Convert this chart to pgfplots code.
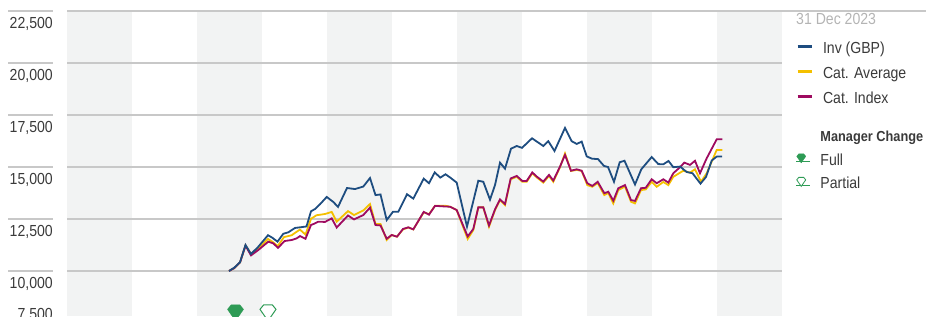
\documentclass[border=0pt]{standalone}
\usepackage{fontspec}
\setmainfont{Liberation Sans}[FakeStretch=0.88]
\usepackage{pgfplots}
\pgfplotsset{compat=1.18}
\definecolor{invblue}{HTML}{1E4D80}
\definecolor{catgold}{HTML}{F4C000}
\definecolor{catmag}{HTML}{9E0B60}
\definecolor{mgreen}{HTML}{2E9B55}
\definecolor{band}{HTML}{F2F3F3}
\definecolor{gridc}{HTML}{C8C8C8}
\definecolor{tickc}{HTML}{3A3A3A}
\definecolor{datec}{HTML}{B4B4B4}

\pgfdeclareplotmark{gem}{%
 \pgfpathmoveto{\pgfqpoint{-0.55\pgfplotmarksize}{0.75\pgfplotmarksize}}%
 \pgfpathlineto{\pgfqpoint{0.55\pgfplotmarksize}{0.75\pgfplotmarksize}}%
 \pgfpathlineto{\pgfqpoint{\pgfplotmarksize}{0.2\pgfplotmarksize}}%
 \pgfpathlineto{\pgfqpoint{0pt}{-1.25\pgfplotmarksize}}%
 \pgfpathlineto{\pgfqpoint{-\pgfplotmarksize}{0.2\pgfplotmarksize}}%
 \pgfpathclose
 \pgfusepathqfillstroke}

\newcommand{\sz}{\fontsize{16}{19}\selectfont}

\begin{document}
\begin{tikzpicture}
\useasboundingbox (0,0) rectangle (926pt,316pt);
\clip (0,0) rectangle (926pt,316pt);
% alternating year bands
\foreach \a/\b in {67/132,197/262,327/392,457/522,587/652,717/782}
  \fill[band] (\a pt,0pt) rectangle (\b pt,305pt);
% short rules above the tick labels
\foreach \y in {305,253,201,149,97,45}
  \draw[gridc, line width=1.5pt] (8pt,\y pt) -- (53pt,\y pt);
\draw[gridc, line width=1.5pt] (782pt,305pt) -- (926pt,305pt);
\node[anchor=north east, inner sep=0pt, text=tickc, font=\sz] at (53pt,8pt) {7,500};
\node[anchor=north west, inner sep=0pt, text=datec, font=\sz] at (796pt,303pt) {31 Dec 2023};

\begin{axis}[
  at={(67pt,-7pt)}, anchor=south west,
  scale only axis, width=715pt, height=312pt,
  xmin=67, xmax=782, ymin=7500, ymax=22500,
  axis line style={draw=none},
  xtick=\empty,
  ytick={10000,12500,15000,17500,20000,22500},
  scaled y ticks=false,
  ymajorgrids,
  major grid style={gridc, line width=1.5pt},
  major tick length=0pt,
  /pgf/number format/1000 sep={,},
  /pgf/number format/assume math mode=true,
  yticklabel style={font=\sz, text=tickc, anchor=north east, inner sep=0pt, xshift=-14pt, yshift=-6pt},
  legend style={at={(1.0196,0.9014)}, anchor=north west, draw=none, fill=none,
    inner sep=0pt, outer sep=0pt, row sep=9pt, font=\sz, text=tickc,
    nodes={inner sep=0pt, text height=12pt, text depth=4pt},
    /tikz/every odd column/.append style={column sep=10pt}},
  legend cell align=left,
  legend image code/.code={\draw[line width=3pt,#1] (0pt,3pt) -- (14pt,3pt);},
]
\addlegendimage{invblue}\addlegendentry{Inv (GBP)}
\addlegendimage{catgold}\addlegendentry{Cat. Average}
\addlegendimage{catmag}\addlegendentry{Cat. Index}

\addplot[catgold, line width=1.8pt, forget plot] coordinates {
(229,10000)(234.3,10140)(240,10410)(245.5,11230)(251,10820)(258.3,11080)(268,11540)(272.3,11410)(277.7,11200)(284,11630)(291.7,11720)(296.7,11890)(300,11990)(305.5,11750)(311,12510)(316.5,12680)(325,12740)(331.7,12840)(336.7,12370)(348,12880)(354,12690)(363.3,12910)(370,13220)(375.5,12260)(380.5,12260)(386.7,11490)(391.7,11730)(397,11650)(403,12000)(408.3,12090)(413.3,12000)(423.7,12820)(429,12730)(435,13130)(446,13130)(450,13090)(456.7,12930)(467.7,11540)(473.3,11970)(478.3,13060)(483.3,13060)(489,12130)(495,12930)(500,13410)(505,13170)(510.7,14410)(516.7,14530)(522.3,14290)(526.7,14290)(532.3,14700)(536.7,14500)(543.3,14250)(549,14570)(553.3,14290)(560,14990)(565,15650)(571,14810)(576.7,14860)(581.7,14810)(587.3,14130)(592.3,14050)(597.7,14230)(604.3,13650)(608.3,13750)(613.3,13250)(618.3,13890)(625,14060)(631,13330)(635,13250)(641,13890)(645.7,13920)(651.7,14290)(656.7,14050)(663.3,14280)(668.3,14130)(673.3,14530)(683.3,14820)(690,14730)(695,14890)(701,14290)(706.7,14700)(716.7,15820)(722.3,15820)
};
\addplot[catmag, line width=1.8pt, forget plot] coordinates {
(229,10000)(234.3,10140)(240,10410)(245.5,11220)(251,10750)(258.3,11010)(268.3,11410)(273.3,11330)(278,11110)(284.5,11440)(291.7,11490)(296.7,11570)(300,11680)(305.5,11550)(311,12210)(315,12290)(318.3,12370)(325,12360)(331.7,12530)(336.7,12090)(348,12670)(354,12480)(363.3,12690)(370,13050)(375.5,12210)(380.5,12190)(386.7,11550)(391.7,11730)(397,11650)(403,12020)(408.3,12100)(413.3,12000)(423.7,12840)(429,12710)(435,13130)(446,13100)(450,13090)(456.7,12930)(467.7,11660)(473.3,12020)(478.3,13060)(483.3,13060)(489,12190)(495,12960)(500,13440)(505,13220)(510.7,14450)(516.7,14570)(522.3,14330)(526.7,14330)(532.3,14740)(536.7,14540)(543.3,14300)(549,14620)(553.3,14350)(560,15020)(565,15580)(571,14820)(576.7,14890)(581.7,14820)(587.3,14220)(592.3,14090)(597.7,14290)(604.3,13740)(608.3,13810)(613.3,13380)(618.3,13980)(625,14130)(631,13410)(635,13370)(641,13980)(645.7,14000)(651.7,14410)(656.7,14220)(663.3,14410)(668.3,14250)(673.3,14700)(680,14990)(684.3,15210)(690,15100)(695,15300)(700,14700)(706.7,15420)(716.7,16330)(722.3,16330)
};
\addplot[invblue, line width=1.8pt, forget plot] coordinates {
(229,10000)(234.3,10160)(240,10420)(245.5,11250)(251,10820)(258,11150)(268,11720)(272.3,11600)(277.5,11410)(283.3,11790)(288.3,11860)(295,12070)(300,12100)(306.5,12140)(311,12870)(315,12980)(320,13210)(326.7,13560)(333.3,13320)(338,13080)(347,13990)(355,13940)(363.3,14060)(370,14470)(375.5,13650)(380.5,13680)(386.7,12450)(393,12850)(398.3,12850)(407,13690)(413.3,13480)(423.7,14440)(429,14220)(434.7,14740)(440.3,14490)(445.5,14650)(450,14500)(456.7,14250)(467,12130)(478.3,14340)(483.3,14290)(490,13430)(495,14130)(500,15210)(505,14920)(511,15880)(516.7,16010)(522,15920)(532,16380)(537.5,16200)(543.3,16010)(548.3,16240)(554.5,15770)(565,16880)(571.7,16240)(576.7,16110)(581.7,16220)(586.7,15510)(592,15400)(598,15380)(604,15050)(608,15000)(614,14290)(619.7,15230)(624.5,15300)(635,14160)(641.3,14890)(651.7,15480)(658.3,15140)(663.3,15130)(668.5,15290)(673.3,14990)(680,15020)(686.7,14760)(692.5,14700)(700.5,14200)(706,14520)(711.7,15310)(716.7,15500)(722,15500)
};
% manager changes
\addplot[only marks, mark=gem, mark size=8pt, mgreen, fill=mgreen, forget plot] coordinates {(235.5,8080)};
\addplot[only marks, mark=gem, mark size=8pt, mgreen, mark options={fill=white, draw=mgreen, line width=1pt}, forget plot] coordinates {(268,8080)};
\end{axis}

\begin{axis}[
  at={(67pt,-7pt)}, anchor=south west,
  scale only axis, width=715pt, height=312pt,
  xmin=0, xmax=1, ymin=0, ymax=1, hide axis,
  legend style={at={(1.0196,0.6194)}, anchor=north west, draw=none, fill=none,
    inner sep=0pt, outer sep=0pt, row sep=7.5pt, font=\sz, text=tickc,
    nodes={inner sep=0pt, text height=12pt, text depth=4pt},
    /tikz/every odd column/.append style={column sep=10pt}},
  legend cell align=left,
  legend image code/.code={\path (0pt,0pt) -- (14pt,0pt); \draw[#1] plot coordinates {(5pt,4pt)};},
]
\addlegendimage{empty legend}\addlegendentry{\fontsize{14.5}{18}\selectfont\textbf{Manager Change}}
\addlegendimage{only marks, mark=gem, mark size=4.5pt, mgreen, fill=mgreen}\addlegendentry{Full}
\addlegendimage{only marks, mark=gem, mark size=4.5pt, mgreen, mark options={fill=white, draw=mgreen, line width=0.8pt}}\addlegendentry{Partial}
\end{axis}
\end{tikzpicture}
\end{document}
